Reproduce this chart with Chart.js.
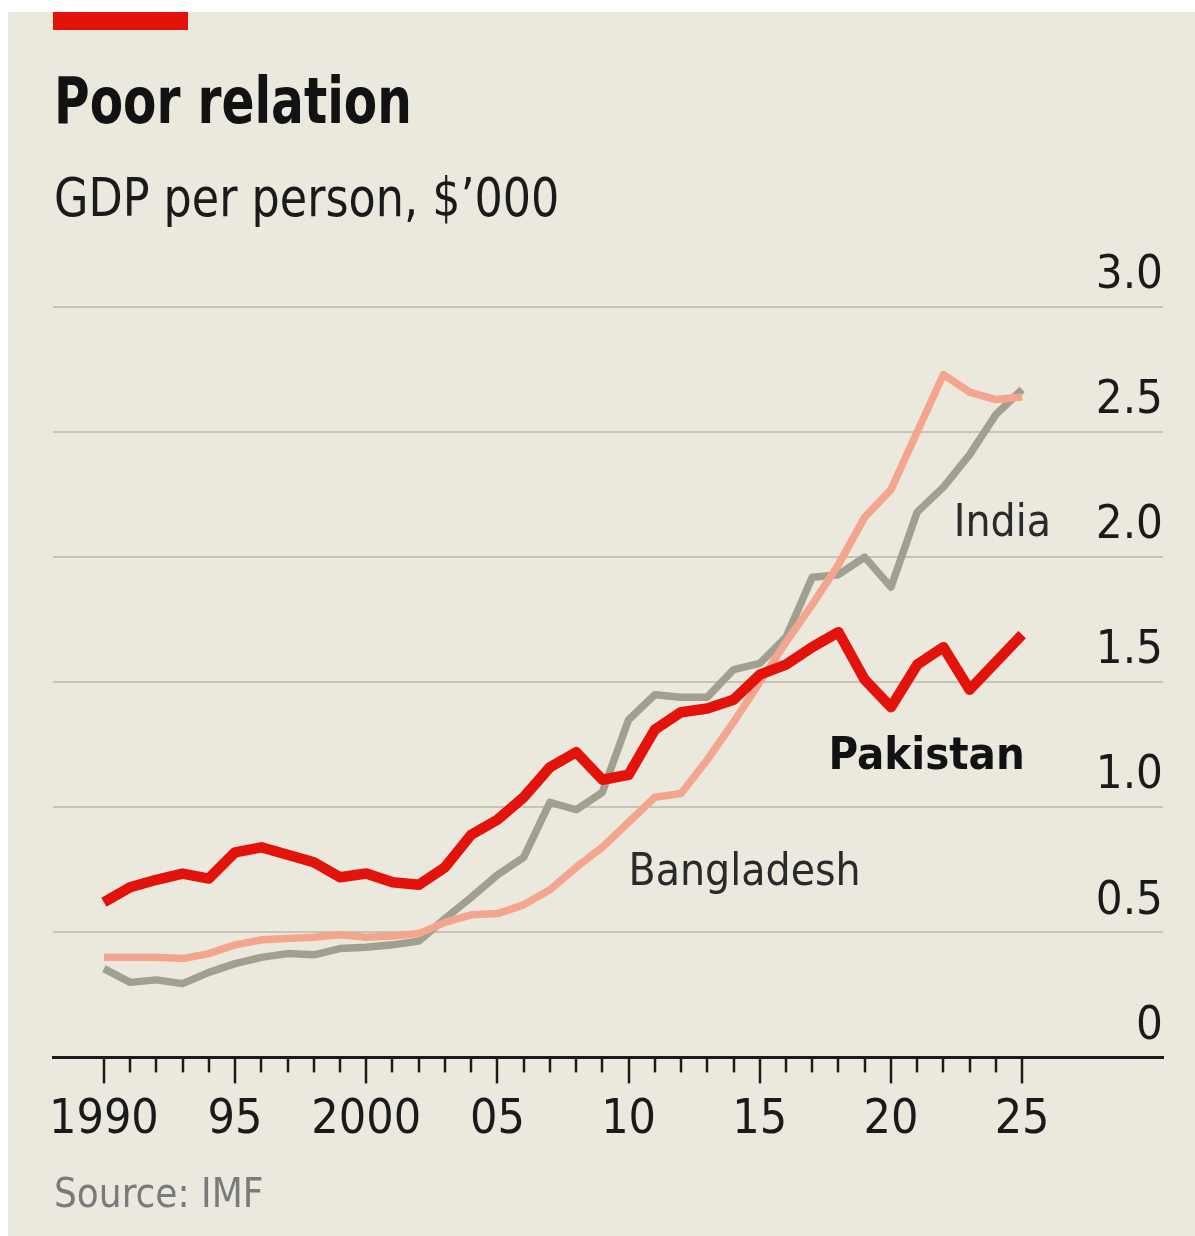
<!DOCTYPE html>
<html>
<head>
<meta charset="utf-8">
<title>Poor relation</title>
<script src="https://cdn.jsdelivr.net/npm/chart.js@4.4.1/dist/chart.umd.min.js"></script>
<style>
  body { margin: 0; background: #fff; }
  #wrap { position: relative; width: 1195px; height: 1236px; overflow: hidden; }
  #panel { position: absolute; left: 8px; top: 12px; right: 0; bottom: 0; background: #ebe9de; }
  .bar { position: absolute; left: 53px; top: 12px; width: 135px; height: 18px; background: #e3120b; }
  .txt { position: absolute; left: 54px; white-space: nowrap; transform-origin: left top;
         font-family: 'Liberation Sans Narrow', 'DejaVu Sans Condensed', sans-serif; }
  .title { top: 69px; font-size: 64px; line-height: 64px; font-weight: bold; color: #121212; transform: scaleX(0.845); }
  .subtitle { top: 171px; font-size: 54px; line-height: 54px; color: #1a1a1a; transform: scaleX(0.915); }
  .source { top: 1173px; font-size: 40px; line-height: 40px; color: #7a7a7a; }
  canvas { position: absolute; left: 0; top: 0; }
</style>
</head>
<body>
<div id="wrap">
  <div id="panel"></div>
  <div class="bar"></div>
  <div class="txt title">Poor relation</div>
  <div class="txt subtitle">GDP per person, $’000</div>
  <canvas id="chart" width="1195" height="1236"></canvas>
  <div class="txt source">Source: IMF</div>
</div>
<script>
// Data, GDP per person in $'000
const years = [1990, 1991, 1992, 1993, 1994, 1995, 1996, 1997, 1998, 1999,
  2000, 2001, 2002, 2003, 2004, 2005, 2006, 2007, 2008, 2009,
  2010, 2011, 2012, 2013, 2014, 2015, 2016, 2017, 2018, 2019,
  2020, 2021, 2022, 2023, 2024, 2025];

const pakistan = [0.62, 0.68, 0.71, 0.735, 0.715, 0.82, 0.84, 0.81, 0.78, 0.72,
  0.735, 0.70, 0.69, 0.76, 0.89, 0.95, 1.04, 1.16, 1.22, 1.11,
  1.13, 1.31, 1.38, 1.395, 1.43, 1.53, 1.57, 1.64, 1.70, 1.51,
  1.40, 1.57, 1.64, 1.47, 1.58, 1.69];

const india = [0.355, 0.30, 0.31, 0.295, 0.34, 0.375, 0.40, 0.415, 0.41, 0.435,
  0.44, 0.45, 0.465, 0.555, 0.64, 0.73, 0.80, 1.02, 0.99, 1.06,
  1.35, 1.45, 1.44, 1.44, 1.55, 1.575, 1.68, 1.92, 1.93, 2.00,
  1.88, 2.18, 2.28, 2.41, 2.57, 2.67];

const bangladesh = [0.40, 0.40, 0.40, 0.395, 0.415, 0.45, 0.47, 0.475, 0.48, 0.49,
  0.48, 0.485, 0.495, 0.54, 0.57, 0.575, 0.61, 0.67, 0.76, 0.84,
  0.94, 1.04, 1.055, 1.19, 1.34, 1.50, 1.66, 1.81, 1.97, 2.16,
  2.27, 2.50, 2.73, 2.66, 2.63, 2.64];

const yTicks = [0, 0.5, 1, 1.5, 2, 2.5, 3];
const xLabelYears = [1990, 1995, 2000, 2005, 2010, 2015, 2020, 2025];
const xLabelText = ['1990', '95', '2000', '05', '10', '15', '20', '25'];

const FONT = "'Liberation Sans Narrow', 'DejaVu Sans Condensed', sans-serif";
const INK = '#1a1a1a';

// Line labels, placed in data coordinates
const seriesLabels = [
  { text: 'India', x: 2026.1, y: 2.13, align: 'right', bold: false },
  { text: 'Pakistan', x: 2025.1, y: 1.2, align: 'right', bold: true },
  { text: 'Bangladesh', x: 2010.0, y: 0.735, align: 'left', bold: false },
];

function pts(values) {
  return years.map((yr, i) => ({ x: yr, y: values[i] }));
}

// Year tick marks below the baseline, long ones every five years
const tickMarks = {
  id: 'tickMarks',
  afterDraw(chart) {
    const ctx = chart.ctx;
    const xs = chart.scales.x;
    const base = chart.chartArea.bottom;
    ctx.save();
    ctx.strokeStyle = INK;
    ctx.lineWidth = 2.5;
    years.forEach(yr => {
      const px = Math.round(xs.getPixelForValue(yr));
      const len = xLabelYears.includes(yr) ? 26 : 15;
      ctx.beginPath();
      ctx.moveTo(px, base);
      ctx.lineTo(px, base + len);
      ctx.stroke();
    });
    ctx.restore();
  },
};

const lineLabels = {
  id: 'lineLabels',
  afterDatasetsDraw(chart) {
    const ctx = chart.ctx;
    const xs = chart.scales.x;
    const ys = chart.scales.y;
    ctx.save();
    ctx.textBaseline = 'middle';
    seriesLabels.forEach(l => {
      ctx.font = (l.bold ? 'bold 45px ' : '44px ') + FONT;
      ctx.fillStyle = l.bold ? '#121212' : '#2a2a2a';
      ctx.textAlign = l.align;
      ctx.fillText(l.text, xs.getPixelForValue(l.x), ys.getPixelForValue(l.y));
    });
    ctx.restore();
  },
};

const chart = new Chart(document.getElementById('chart').getContext('2d'), {
  type: 'line',
  data: {
    datasets: [
      { label: 'Pakistan', data: pts(pakistan), borderColor: '#e3120b', borderWidth: 10.5, order: 0 },
      { label: 'Bangladesh', data: pts(bangladesh), borderColor: '#f4a58e', borderWidth: 7.5, order: 1 },
      { label: 'India', data: pts(india), borderColor: '#9fa090', borderWidth: 7.5, order: 2 },
    ],
  },
  options: {
    responsive: false,
    animation: false,
    devicePixelRatio: 1,
    layout: { padding: { left: 53, right: 32, top: 307, bottom: 53 } },
    elements: {
      point: { radius: 0 },
      line: { tension: 0, borderJoinStyle: 'round', borderCapStyle: 'butt' },
    },
    plugins: {
      legend: { display: false },
      tooltip: { enabled: false },
    },
    scales: {
      x: {
        type: 'linear',
        min: 1988.06,
        max: 2030.37,
        afterBuildTicks(scale) {
          scale.ticks = years.map(v => ({ value: v }));
        },
        grid: { display: false, drawTicks: false },
        border: { display: true, color: INK, width: 3 },
        ticks: {
          autoSkip: false,
          maxRotation: 0,
          padding: 34,
          color: INK,
          font: { family: FONT, size: 48 },
          callback: v => {
            const i = xLabelYears.indexOf(v);
            return i >= 0 ? xLabelText[i] : '';
          },
        },
      },
      y: {
        position: 'right',
        min: 0,
        max: 3,
        afterBuildTicks(scale) {
          scale.ticks = yTicks.map(v => ({ value: v }));
        },
        grid: {
          drawTicks: false,
          lineWidth: 2,
          color: ctx => (ctx.tick && ctx.tick.value === 0 ? 'rgba(0,0,0,0)' : '#c6c4b9'),
        },
        border: { display: false },
        ticks: {
          mirror: true,
          padding: 0,
          labelOffset: -31,
          color: INK,
          font: { family: FONT, size: 47 },
          callback: v => (v === 0 ? '0' : v.toFixed(1)),
        },
      },
    },
  },
  plugins: [tickMarks, lineLabels],
});
</script>
</body>
</html>
